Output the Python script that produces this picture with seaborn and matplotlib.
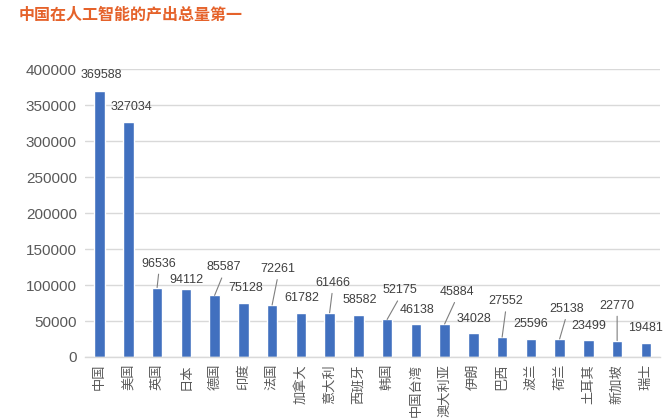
import matplotlib
matplotlib.use('Agg')
import matplotlib.pyplot as plt
import seaborn as sns

# Data
countries = ['中国', '美国', '英国', '日本', '德国', '印度', '法国', '加拿大', '意大利', '西班牙',
             '韩国', '中国台湾', '澳大利亚', '伊朗', '巴西', '波兰', '荷兰', '土耳其', '新加坡', '瑞士']
output = [369588, 327034, 96536, 94112, 85587, 75128, 72261, 61782, 61466, 58582,
          52175, 46138, 45884, 34028, 27552, 25596, 25138, 23499, 22770, 19481]
yticks = list(range(0, 400001, 50000))
title = '中国在人工智能的产出总量第一'

# label offsets (pixels) from bar top, some labels are pushed up with a leader line
label_offsets = [(2, 16), (3, 15), (2, 24), (1, 9), (9, 28), (2, 15), (6, 36), (1, 15), (3, 30), (1, 15),
                 (13, 29), (1, 14), (12, 32), (1, 14), (4, 36), (0, 15), (7, 30), (0, 14), (0, 35), (0, 15)]

sns.set_theme(style='whitegrid')
plt.rcParams['font.family'] = ['Liberation Sans', 'Noto Sans CJK SC']

fig = plt.figure(figsize=(6.71, 4.19), dpi=100)
ax = fig.add_axes([0.127, 0.148, 0.857, 0.687])

sns.barplot(x=countries, y=output, color='#4170BF', saturation=1, width=0.37, ax=ax)

ax.set_ylim(0, 400000)
ax.set_yticks(yticks)
ax.set_yticklabels([str(t) for t in yticks])
ax.grid(axis='y', color='#d9d9d9', linewidth=1)
ax.grid(axis='x', visible=False)
for s in ['top', 'right', 'left']:
    ax.spines[s].set_visible(False)
ax.spines['bottom'].set_color('#d9d9d9')
ax.spines['bottom'].set_linewidth(1)
ax.set_facecolor('white')
ax.tick_params(axis='y', length=0, pad=6, labelsize=11, labelcolor='#595959')
ax.tick_params(axis='x', length=0, pad=5, labelsize=9.5, labelcolor='#595959')
for lab in ax.get_xticklabels():
    lab.set_rotation(90)
    lab.set_va('top')
    lab.set_ha('center')
    lab.set_family(['Noto Sans CJK SC'])

for i, v in enumerate(output):
    dx, dy = label_offsets[i]
    arrow = None
    if dy > 20:
        arrow = dict(arrowstyle='-', color='#7f7f7f', lw=0.8, shrinkA=1, shrinkB=0, relpos=(0.5, 0))
    ax.annotate(str(v), xy=(i, v), xytext=(dx, dy), textcoords='offset pixels',
                ha='center', va='center', fontsize=9, color='#404040', arrowprops=arrow)

fig.text(0.028, 0.965, title, fontsize=11.5, fontweight='bold', color='#E5622A',
         family=['Noto Sans CJK SC'], va='center', ha='left')

fig.savefig('out.png', dpi=100)
